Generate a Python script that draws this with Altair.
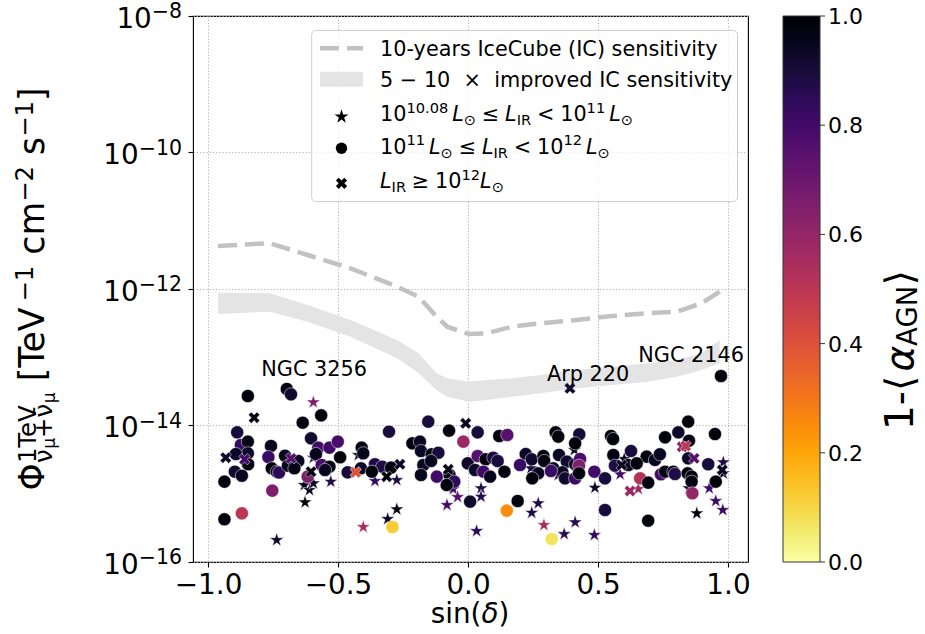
import altair as alt
import numpy as np
import pandas as pd

FONT = "DejaVu Sans"

# ---------------- values ----------------
# 10-year IceCube sensitivity (log10 of flux) and 5-10x improved band
sens_sin_dec = [-0.962, -0.762, -0.617, -0.452, -0.273, -0.190, -0.121, -0.080, 0.003,
                0.072, 0.168, 0.279, 0.417, 0.554, 0.692, 0.803, 0.899, 0.968]
sens_log_flux = [-11.370, -11.330, -11.502, -11.697, -11.966, -12.113, -12.406, -12.553, -12.659,
                 -12.649, -12.553, -12.503, -12.454, -12.396, -12.356, -12.333, -12.209, -12.040]
band_upper_log_flux = [-12.054, -12.063, -12.234, -12.454, -12.747, -12.942, -13.236, -13.309, -13.358,
                       -13.333, -13.309, -13.260, -13.187, -13.138, -13.089, -13.040, -12.942, -12.747]
band_lower_log_flux = [-12.366, -12.332, -12.479, -12.699, -13.016, -13.236, -13.480, -13.578, -13.651,
                       -13.626, -13.578, -13.528, -13.455, -13.407, -13.358, -13.285, -13.187, -13.089]

# sources: sin(dec), log10 flux, luminosity class (s: 10^10.08-10^11, c: 10^11-10^12, x: >=10^12), 1-<alpha_AGN>
src_sin_dec = [
    -0.847, -0.697, -0.681, -0.595, -0.565, -0.636, -0.823, -0.888, -0.874, -0.847,
    -0.847, -0.932, -0.893, -0.860, -0.846, -0.897, -0.870, -0.937, -0.758, -0.768,
    -0.704, -0.681, -0.653, -0.755, -0.736, -0.727, -0.693, -0.668, -0.604, -0.576,
    -0.533, -0.501, -0.595, -0.585, -0.563, -0.533, -0.550, -0.617, -0.604, -0.630,
    -0.610, -0.595, -0.528, -0.627, -0.753, -0.870, -0.937, -0.736, -0.492, -0.153,
    -0.073, -0.009, -0.304, -0.409, -0.403, -0.422, -0.214, -0.185, -0.181, -0.140,
    -0.114, -0.018, -0.358, -0.330, -0.296, -0.262, -0.172, -0.142, -0.463, -0.432,
    -0.412, -0.370, -0.313, -0.358, -0.274, -0.181, -0.120, -0.076, -0.071, -0.053,
    -0.082, -0.057, -0.040, -0.081, -0.274, -0.309, -0.403, -0.291, 0.008, -0.001,
    0.392, 0.037, 0.120, 0.151, 0.337, 0.347, 0.428, 0.412, 0.409, 0.037,
    0.068, 0.097, 0.114, 0.027, 0.059, 0.085, 0.140, 0.222, 0.245, 0.290,
    0.293, 0.200, 0.242, 0.270, 0.247, 0.350, 0.380, 0.412, 0.431, 0.427,
    0.328, 0.363, 0.373, 0.412, 0.427, 0.347, 0.319, 0.486, 0.050, 0.050,
    0.191, 0.149, 0.270, 0.245, 0.292, 0.412, 0.370, 0.322, 0.033, 0.486,
    0.488, 0.973, 0.847, 0.809, 0.550, 0.558, 0.758, 0.850, 0.950, 0.824,
    0.837, 0.559, 0.627, 0.601, 0.687, 0.719, 0.738, 0.565, 0.591, 0.617,
    0.649, 0.585, 0.527, 0.662, 0.693, 0.623, 0.655, 0.742, 0.758, 0.790,
    0.796, 0.847, 0.870, 0.845, 0.860, 0.860, 0.924, 0.953, 0.928, 0.863,
    0.850, 0.982, 0.978, 0.982, 0.953, 0.980, 0.880, 0.527, 0.693]
src_log_flux = [
    -13.568, -13.465, -13.543, -13.660, -13.851, -13.959, -13.886, -14.100, -14.286, -14.237,
    -14.407, -14.472, -14.418, -14.495, -14.568, -14.677, -14.736, -14.823, -14.300, -14.462,
    -14.443, -14.481, -14.520, -14.627, -14.677, -14.689, -14.589, -14.627, -14.188, -14.325,
    -14.325, -14.237, -14.472, -14.418, -14.579, -14.604, -14.652, -14.750, -14.677, -14.872,
    -14.945, -14.847, -14.823, -15.125, -14.955, -15.287, -15.374, -15.678, -14.466, -13.944,
    -14.076, -13.968, -14.091, -14.325, -14.407, -14.432, -14.261, -14.237, -14.374, -14.422,
    -14.399, -14.237, -14.568, -14.604, -14.618, -14.568, -14.579, -14.520, -14.686, -14.686,
    -14.627, -14.677, -14.750, -14.813, -14.799, -14.725, -14.750, -14.642, -14.725, -14.823,
    -14.872, -14.930, -15.048, -15.165, -15.228, -15.370, -15.487, -15.487, -15.116, -14.554,
    -13.455, -14.100, -14.154, -14.139, -14.100, -14.164, -14.129, -14.261, -14.359, -14.447,
    -14.495, -14.472, -14.520, -14.652, -14.677, -14.750, -14.677, -14.418, -14.495, -14.447,
    -14.520, -14.579, -14.627, -14.701, -14.774, -14.432, -14.530, -14.568, -14.491, -14.589,
    -14.627, -14.686, -14.774, -14.774, -14.701, -14.725, -14.667, -14.677, -14.920, -15.043,
    -15.106, -15.248, -15.140, -15.278, -15.458, -15.418, -15.590, -15.663, -15.546, -15.604,
    -14.911, -13.275, -13.944, -14.100, -14.154, -14.198, -14.173, -14.223, -14.125, -14.311,
    -14.300, -14.432, -14.374, -14.491, -14.457, -14.505, -14.422, -14.589, -14.579, -14.579,
    -14.554, -14.715, -14.774, -14.774, -14.838, -14.960, -14.930, -14.715, -14.677, -14.677,
    -14.711, -14.481, -14.481, -14.701, -14.750, -14.823, -14.568, -14.823, -14.920, -14.993,
    -14.920, -14.539, -14.652, -14.701, -15.106, -15.238, -15.287, -15.238, -15.395]
src_class = list(
    "cccsccxccc"
    "cxcxcccccc"
    "cxcccccccc"
    "ccscccccxs"
    "ssssccc" "scc"
    "cxcccscccc"
    "cccccxcccx"
    "ccxssccxcc"
    "csssssscc" "c"
    "xccccccc" "sc"
    "cccccccccc"
    "ccscccccc" "c"
    "cccccsccss"
    "ccsssssc" "ss"
    "scccccccc" "x"
    "xccscccc" "xc"
    "cscccxsccc"
    "cc" "xccccc" "sc"
    "ssxssss" "cc")
src_agn = [
    0.98, 0.98, 0.92, 0.65, 0.98, 0.98, 0.97, 0.90, 0.83, 0.97,
    0.93, 0.93, 0.93, 0.80, 0.98, 0.92, 0.94, 0.98, 0.94, 0.82,
    0.95, 0.75, 0.94, 0.98, 0.93, 0.85, 0.96, 0.96, 0.92, 0.80,
    0.80, 0.78, 0.85, 0.95, 0.78, 0.97, 0.95, 0.65, 0.98, 0.95,
    0.95, 0.93, 0.88, 0.98, 0.65, 0.50, 0.98, 0.93, 0.98, 0.90,
    0.98, 0.95, 0.90, 0.98, 0.95, 0.93, 0.98, 0.94, 0.93, 0.98,
    0.90, 0.58, 0.88, 0.88, 0.98, 0.93, 0.94, 0.95, 0.90, 0.40,
    0.93, 0.98, 0.98, 0.83, 0.88, 0.95, 0.80, 0.97, 0.95, 0.85,
    0.98, 0.82, 0.75, 0.80, 0.98, 0.93, 0.55, 0.12, 0.92, 0.93,
    0.92, 0.90, 0.98, 0.75, 0.98, 0.98, 0.90, 0.98, 0.97, 0.75,
    0.98, 0.90, 0.90, 0.93, 0.80, 0.95, 0.98, 0.93, 0.92, 0.98,
    0.98, 0.82, 0.88, 0.95, 0.98, 0.94, 0.92, 0.93, 0.78, 0.65,
    0.93, 0.94, 0.92, 0.82, 0.98, 0.88, 0.82, 0.80, 0.88, 0.86,
    0.98, 0.25, 0.88, 0.88, 0.55, 0.86, 0.86, 0.07, 0.86, 0.84,
    0.93, 0.98, 0.98, 0.93, 0.98, 0.98, 0.98, 0.97, 0.98, 0.65,
    0.50, 0.97, 0.90, 0.95, 0.98, 0.95, 0.94, 0.88, 0.95, 0.95,
    0.98, 0.80, 0.90, 0.52, 0.98, 0.58, 0.58, 0.80, 0.97, 0.95,
    0.88, 0.93, 0.75, 0.98, 0.98, 0.97, 0.90, 0.98, 0.80, 0.60,
    0.95, 0.88, 0.95, 0.93, 0.82, 0.82, 0.98, 0.90, 0.98]

annot_names = ["NGC 3256", "Arp 220", "NGC 2146"]
annot_sin_dec = [-0.592, 0.462, 0.858]
annot_log_flux = [-13.275, -13.348, -13.070]

x_ticks = [-1.0, -0.5, 0.0, 0.5, 1.0]
y_tick_exponents = [-8, -10, -12, -14, -16]
cbar_ticks = [0.0, 0.2, 0.4, 0.6, 0.8, 1.0]

legend_rows = ["10-years IceCube (IC) sensitivity",
               "5 \u2212 10\u00a0\u00a0\u00d7\u00a0\u00a0improved IC sensitivity"]

# ---------------- layout ----------------
W, H = 555, 546
X0, Y0 = 193, 16
PAD = {"left": X0, "top": Y0, "right": 925 - X0 - W, "bottom": 634 - Y0 - H}


def px(x):
    return x - X0


def py(y):
    return y - Y0


EM = {str(d): 0.636 for d in range(10)}
EM.update({'.': 0.318, 'L': 0.557, '⊙': 0.838, '≤': 0.838, '≥': 0.838, '<': 0.838,
           'I': 0.295, 'R': 0.695, 'A': 0.684, 'G': 0.775, 'N': 0.748, 'T': 0.611,
           'e': 0.615, 'V': 0.684, '[': 0.390, ']': 0.390, 'c': 0.550, 'm': 0.974,
           's': 0.521, 'i': 0.278, 'n': 0.634, '(': 0.390, ')': 0.390, 'δ': 0.612,
           'Φ': 0.790, 'ν': 0.592, 'μ': 0.635, '+': 0.838, '−': 0.838, '-': 0.361,
           'α': 0.659, '⟨': 0.5, '⟩': 0.5, ' ': 0.318, '\u0304': 0.0})


def tw(s, size):
    return sum(EM.get(ch, 0.6) for ch in s) * size


dummy = pd.DataFrame({"d": [0]})


def text_layer(s, x, y, size, angle=0, style="normal", align="left", baseline="alphabetic"):
    return alt.Chart(dummy).mark_text(
        text=s, fontSize=size, font=FONT, fontStyle=style, align=align,
        baseline=baseline, angle=angle, color="black"
    ).encode(x=alt.value(x), y=alt.value(y))


xscale = alt.Scale(domain=[-1.058, 1.077], nice=False, zero=False)
yscale = alt.Scale(type="log", domain=[1e-16, 1e-8], nice=False)
grid_kw = dict(grid=True, gridColor="#b0b0b0", gridDash=[1.2, 2.0], gridWidth=1.0,
               tickColor="black", tickWidth=1.1, tickSize=5, domain=False, title=None)
xaxis = alt.Axis(values=x_ticks, labelExpr="replace(format(datum.value, '.1f'), '-', '\u2212')",
                 labelFont=FONT, labelFontSize=27.8, labelColor="black", labelBaseline="alphabetic",
                 labelPadding=26, labelFlush=False, labelOverlap=False, **grid_kw)
yaxis = alt.Axis(values=[10.0 ** e for e in y_tick_exponents], labels=False, **grid_kw)


def X(f):
    return alt.X(f, type="quantitative", scale=xscale, axis=xaxis)


def Y(f):
    return alt.Y(f, type="quantitative", scale=yscale, axis=yaxis)


sens_df = pd.DataFrame({
    "sd": sens_sin_dec,
    "flux": 10.0 ** np.array(sens_log_flux),
    "hi": 10.0 ** np.array(band_upper_log_flux),
    "lo": 10.0 ** np.array(band_lower_log_flux),
})

band = alt.Chart(sens_df).mark_area(color="#e4e4e4", opacity=1).encode(
    x=X("sd"), y=Y("hi"), y2=alt.Y2("lo"))
line = alt.Chart(sens_df).mark_line(color="#c2c2c2", strokeWidth=4.5, strokeDash=[19, 8]).encode(
    x=X("sd"), y=Y("flux"))

STAR = ("M0,-1L0.2245,-0.309L0.9511,-0.309L0.3633,0.118L0.5878,0.809L0,0.382"
        "L-0.5878,0.809L-0.3633,0.118L-0.9511,-0.309L-0.2245,-0.309Z")
XMARK = ("M0,-0.5L0.5,-1L1,-0.5L0.5,0L1,0.5L0.5,1L0,0.5L-0.5,1L-1,0.5"
         "L-0.5,0L-1,-0.5L-0.5,-1Z")
SIZE_STAR, SIZE_CIRC, SIZE_X = 215, 130, 125

pts = pd.DataFrame({"sd": src_sin_dec, "flux": 10.0 ** np.array(src_log_flux),
                    "cls": src_class, "agn": src_agn})
pts["ord"] = pts["cls"].map({"s": 0, "c": 1, "x": 2})
pts = pts.sort_values("ord", kind="stable").reset_index(drop=True)

color_legend = alt.Legend(
    orient="none", legendX=px(783), legendY=0, direction="vertical",
    gradientLength=H, gradientThickness=37, title=None, values=cbar_ticks,
    labelExpr="''", labelFontSize=1,
    gradientStrokeColor="#333333", gradientStrokeWidth=1, labelOverlap=False, padding=0)

points = alt.Chart(pts).mark_point(filled=True, opacity=1, stroke="white", strokeWidth=0.5).encode(
    x=X("sd"), y=Y("flux"),
    shape=alt.Shape("cls:N", scale=alt.Scale(domain=["s", "c", "x"], range=[STAR, "circle", XMARK]),
                    legend=None),
    size=alt.Size("cls:N", scale=alt.Scale(domain=["s", "c", "x"], range=[SIZE_STAR, SIZE_CIRC, SIZE_X]),
                  legend=None),
    color=alt.Color("agn:Q", scale=alt.Scale(scheme="inferno", reverse=True, domain=[0, 1]),
                    legend=color_legend),
)

ann_df = pd.DataFrame({"sd": annot_sin_dec, "flux": 10.0 ** np.array(annot_log_flux), "name": annot_names})
annots = alt.Chart(ann_df).mark_text(font=FONT, fontSize=20.8, align="center", baseline="alphabetic",
                                     color="black").encode(x=X("sd"), y=Y("flux"), text="name:N")

layers = [band, line, points, annots]

# ---------------- legend (upper right) ----------------
layers.append(alt.Chart(dummy).mark_rect(fill="white", fillOpacity=0.8, stroke="#d0d0d0",
                                         strokeWidth=1, cornerRadius=4).encode(
    x=alt.value(px(311.7)), x2=alt.value(px(737.5)), y=alt.value(py(30.5)), y2=alt.value(py(201.5))))
layers.append(alt.Chart(dummy).mark_rule(color="#c2c2c2", strokeWidth=4.5, strokeDash=[19, 8]).encode(
    x=alt.value(px(320)), x2=alt.value(px(363)), y=alt.value(py(48.3))))
layers.append(alt.Chart(dummy).mark_rect(color="#e4e4e4").encode(
    x=alt.value(px(320)), x2=alt.value(px(363)), y=alt.value(py(71.7)), y2=alt.value(py(86.7))))
for shp, yy, sz in [(STAR, 116.7, SIZE_STAR), ("circle", 148.3, SIZE_CIRC), (XMARK, 183.3, SIZE_X)]:
    layers.append(alt.Chart(dummy).mark_point(shape=shp, filled=True, color="black", opacity=1,
                                              size=sz).encode(x=alt.value(px(341.5)), y=alt.value(py(yy))))

LX = 380.0
layers.append(text_layer(legend_rows[0], px(LX), py(56), 20.8))
layers.append(text_layer(legend_rows[1], px(LX), py(87), 20.8))

LF, LS = 20.8, 14.6


def seg_row(segs, x_start, base_y):
    out = []
    x = x_start
    for t, kind in segs:
        if kind == "gap":
            x += t
            continue
        if kind == "sup":
            size, y = LS, base_y - 8.5
        elif kind == "sub":
            size, y = LS, base_y + 4.0
        else:
            size, y = LF, base_y
        style = "italic" if kind == "i" else "normal"
        out.append(text_layer(t, px(x), py(y), size, style=style))
        x += tw(t, size)
    return out


row3 = [("10", "n"), ("10.08", "sup"), (4, "gap"), ("L", "i"), ("⊙", "sub"), (5.8, "gap"),
        ("≤", "n"), (5.8, "gap"), ("L", "i"), ("IR", "sub"), (5.8, "gap"), ("<", "n"), (5.8, "gap"),
        ("10", "n"), ("11", "sup"), (4, "gap"), ("L", "i"), ("⊙", "sub")]
row4 = [("10", "n"), ("11", "sup"), (4, "gap"), ("L", "i"), ("⊙", "sub"), (5.8, "gap"),
        ("≤", "n"), (5.8, "gap"), ("L", "i"), ("IR", "sub"), (5.8, "gap"), ("<", "n"), (5.8, "gap"),
        ("10", "n"), ("12", "sup"), (4, "gap"), ("L", "i"), ("⊙", "sub")]
row5 = [("L", "i"), ("IR", "sub"), (5.8, "gap"), ("≥", "n"), (5.8, "gap"), ("10", "n"), ("12", "sup"),
        ("L", "i"), ("⊙", "sub")]
layers += seg_row(row3, LX, 121.0)
layers += seg_row(row4, LX, 153.5)
layers += seg_row(row5, LX, 188.3)

# ---------------- y tick labels (10^exp) ----------------
for e in y_tick_exponents:
    sup = "\u2212" + str(-e)
    xe = px(182) - tw(sup, 20.5)
    d = pd.DataFrame({"flux": [10.0 ** e]})
    layers.append(alt.Chart(d).mark_text(text="10", font=FONT, fontSize=27.8, align="right",
                                         baseline="alphabetic", dy=11.5, color="black").encode(
        x=alt.value(xe), y=Y("flux")))
    layers.append(alt.Chart(d).mark_text(text=sup, font=FONT, fontSize=20.5, align="left",
                                         baseline="alphabetic", dy=2, color="black").encode(
        x=alt.value(xe), y=Y("flux")))

# ---------------- colorbar ticks and labels ----------------
CB_RIGHT = 783 + 37
for v in cbar_ticks:
    yv = H * (1.0 - v)
    layers.append(alt.Chart(dummy).mark_rule(color="#333333", strokeWidth=1).encode(
        x=alt.value(px(CB_RIGHT)), x2=alt.value(px(CB_RIGHT + 5)), y=alt.value(yv)))
    layers.append(text_layer(f"{v:.1f}", px(CB_RIGHT + 8), yv + 8, 22))

# ---------------- x title ----------------
xt = 430.7
for t, st in [("sin(", "normal"), ("δ", "italic"), (")", "normal")]:
    layers.append(text_layer(t, px(xt), py(623), 27.8, style=st))
    xt += tw(t, 27.8)


# ---------------- rotated titles ----------------
def rot_segs(segs, y_start):
    out = []
    y = y_start
    for t, size, bx, style, adv in segs:
        if t:
            out.append(text_layer(t, px(bx), py(y), size, angle=270, style=style))
        if adv:
            y -= tw(t, size) if adv is True else adv
    return out


F, S, S2 = 34.7, 24.3, 17.0
layers += rot_segs([("Φ", F, 44, "normal", True)], 490.5)
layers += rot_segs([("1TeV", S, 36, "normal", False)], 463.1)
layers += rot_segs([("ν", S, 52, "normal", True), ("μ", S2, 55, "normal", True),
                    ("+", S, 52, "normal", True), ("ν\u0304", S, 52, "normal", True),
                    ("μ", S2, 55, "normal", True)], 463.1)
layers += rot_segs([("[TeV", F, 44, "normal", True), ("\u22121", S, 33, "normal", True),
                    ("", F, 44, "normal", 0.318 * F),
                    ("cm", F, 44, "normal", True), ("\u22122", S, 33, "normal", True),
                    ("", F, 44, "normal", 0.318 * F),
                    ("s", F, 44, "normal", True), ("\u22121", S, 33, "normal", True),
                    ("]", F, 44, "normal", True)], 381.3)

CF, CS = 39.0, 27.5
layers += rot_segs([("1-⟨", CF, 913, "normal", True), ("α", CF, 913, "italic", True),
                    ("AGN", CS, 917, "normal", True), ("⟩", CF, 913, "normal", True)], 430)

chart = alt.layer(*layers).properties(
    width=W, height=H, padding=PAD, autosize=alt.AutoSizeParams(type="none"),
    background="white"
).configure_view(stroke="black", strokeWidth=1.1)

chart.save("out.html", embed_options={"renderer": "svg", "actions": False})
